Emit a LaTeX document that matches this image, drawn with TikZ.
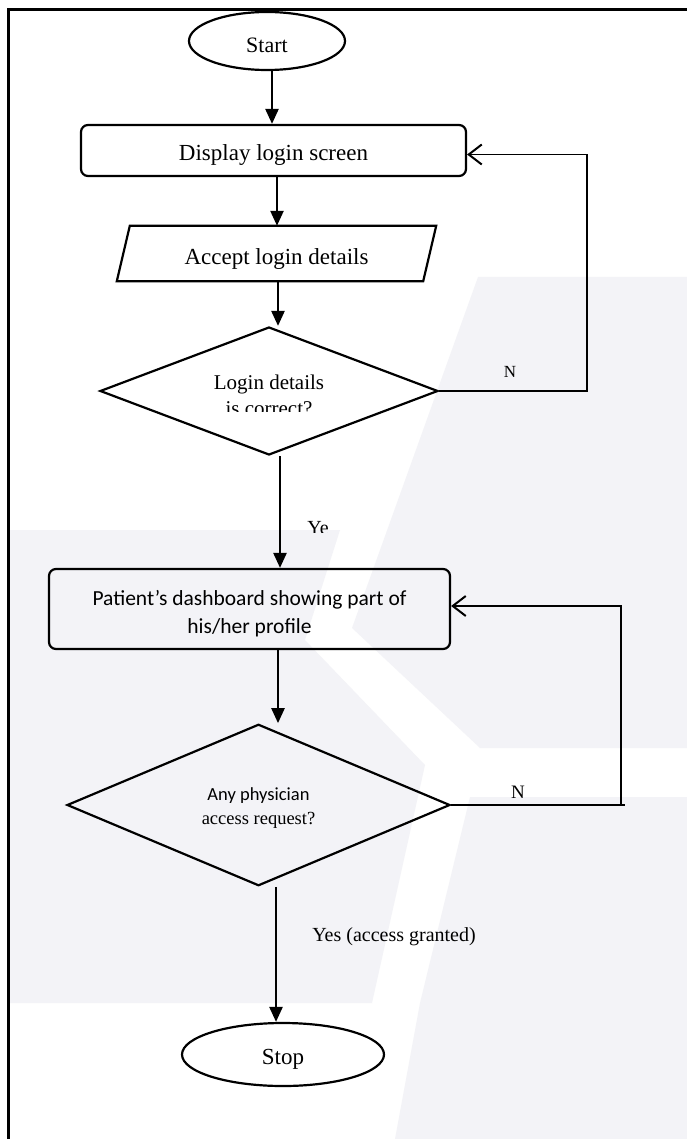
\documentclass[tikz,border=0pt]{standalone}
\usepackage{fontspec}
\setmainfont{Liberation Serif}
\newfontfamily\calfont{Carlito}
\usetikzlibrary{shapes.geometric,arrows.meta,calc}
\definecolor{wm}{RGB}{243,243,247}
\newcommand\lowered[2]{\raisebox{#1}[\height][\depth]{#2}}
\newcommand\twolines[2]{\raisebox{#1}[\height][\depth]{\begin{tabular}{@{}c@{}}#2\end{tabular}}}
\begin{document}
\begin{tikzpicture}[x=1pt,y=-1pt,
  shapeline/.style={draw=black,line width=2.2pt},
  term/.style={shapeline,ellipse,inner sep=0pt},
  proc/.style={shapeline,rectangle,rounded corners=7pt,inner sep=0pt,align=center},
  dec/.style={shapeline,diamond,inner sep=0pt,align=center},
  arr/.style={line width=2.4pt,-{Triangle[length=15pt,width=13pt]}},
  back/.style={line width=1.4pt,-{Straight Barb[length=13pt,width=20pt,line width=2pt]}},
  backline/.style={line width=1.4pt},
  lbl/.style={inner sep=0pt}]
\useasboundingbox (0,0) rectangle (687,1139);
\fill[white] (0,0) rectangle (687,1139);
% faint watermark
\fill[wm] (478,277) -- (687,277) -- (687,748) -- (480,748) -- (352,628) -- cycle;
\fill[wm] (470,797) -- (687,797) -- (687,1139) -- (395,1139) -- (420,1003) -- cycle;
\fill[wm] (9,530) -- (340,530) -- (305,640) -- (425,765) -- (372,1003) -- (9,1003) -- cycle;
% frame
\draw[line width=3pt] (8.5,1139) -- (8.5,9.5) -- (687,9.5);
% nodes
\node[term,minimum width=156pt,minimum height=58pt,font=\fontsize{22}{26}\selectfont] (start) at (267,41) {\lowered{-4pt}{Start}};
\node[proc,minimum width=385pt,minimum height=51pt,font=\fontsize{23}{27}\selectfont] (display) at (273.5,150.5) {\lowered{-5pt}{Display login screen}};
\node[lbl,minimum width=306pt,minimum height=55pt,font=\fontsize{23}{27}\selectfont] (accept) at (276.5,253.5) {\lowered{-6pt}{Accept login details}};
\draw[shapeline] ([xshift=6.5pt]accept.north west) -- ([xshift=6.5pt]accept.north east) -- ([xshift=-6.5pt]accept.south east) -- ([xshift=-6.5pt]accept.south west) -- cycle;
\node[dec,minimum width=338pt,minimum height=128pt] (d1) at (269,391) {};
\begin{scope}
\clip (150,355) rectangle (390,411);
\node[lbl,font=\fontsize{21}{26}\selectfont] (d1text) at ([yshift=-6pt]d1.center) {\twolines{0pt}{Login details\\is correct?}};
\end{scope}
\node[proc,minimum width=401pt,minimum height=80pt,font=\calfont\fontsize{21.5}{28}\selectfont] (dash) at (249.5,609) {\twolines{-5pt}{Patient’s dashboard showing part of\\his/her profile}};
\node[dec,minimum width=383pt,minimum height=134pt,font=\fontsize{18.5}{24}\selectfont] (d2) at (258.5,805) {\twolines{-3pt}{{\calfont Any physician}\\access request?}};
\node[term,minimum width=202pt,minimum height=63pt,font=\fontsize{23}{27}\selectfont] (stop) at (283,1054.5) {\lowered{-5pt}{Stop}};
% labels
\node[lbl,font=\fontsize{17}{20}\selectfont] (n1) at (510,372) {N};
\node[lbl,font=\fontsize{19}{22}\selectfont] (n2) at (518,792) {N};
\begin{scope}
\clip (290,505) rectangle (360,532);
\node[lbl,font=\fontsize{20}{24}\selectfont] (ye) at (318,528) {Ye};
\end{scope}
\node[lbl,font=\fontsize{20}{24}\selectfont] (yes) at (394,937) {Yes (access granted)};
% connectors
\coordinate (xa) at (272,0);
\coordinate (xb) at (277,0);
\coordinate (xc) at (278,0);
\coordinate (xd) at (280,0);
\coordinate (xe) at (278,0);
\coordinate (xf) at (276,0);
\draw[arr] (start.south -| xa) -- (display.north -| xa);
\draw[arr] (display.south -| xb) -- (accept.north -| xb);
\draw[arr] (accept.south -| xc) -- (d1.north -| xc);
\draw[arr] (d1.south -| xd) -- (dash.north -| xd);
\draw[arr] (dash.south -| xe) -- (d2.north -| xe);
\draw[arr] (d2.south -| xf) -- (stop.north -| xf);
\coordinate (r1) at (587,0);
\coordinate (p1) at ([yshift=-4pt]display.east);
\draw[back] (d1.east) -- (d1.east -| r1) |- (p1);
\coordinate (r2) at (621,0);
\coordinate (r2b) at (625,0);
\coordinate (p2) at ([yshift=3pt]dash.east);
\draw[backline] (d2.east) -- (d2.east -| r2b);
\draw[back] (d2.east -| r2) |- (p2);
\end{tikzpicture}
\end{document}
